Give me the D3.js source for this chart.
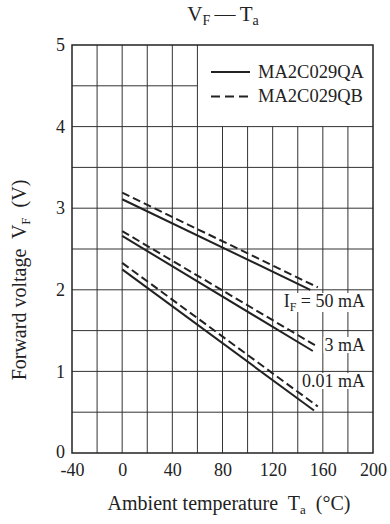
<!DOCTYPE html>
<html>
<head>
<meta charset="utf-8">
<script src="https://cdn.jsdelivr.net/npm/d3@7"></script>
<style>
  body { margin: 0; background: #fff; }
  svg text { font-family: "Liberation Serif", "Times New Roman", serif; fill: #222; }
</style>
</head>
<body>
<div id="chart"></div>
<script>
/* Data: [Ta (°C), VF (V)] */
var currentLabels = ["50 mA", "3 mA", "0.01 mA"];
var seriesQA = [
    [[0, 3.11], [150, 2.00]],
    [[0, 2.66], [152, 1.25]],
    [[0, 2.25], [153, 0.52]]
];
var seriesQB = [
    [[0, 3.19], [156, 2.03]],
    [[0, 2.72], [156, 1.30]],
    [[0, 2.33], [156, 0.57]]
];
var xTicks = [-40, 0, 40, 80, 120, 160, 200];
var yTicks = [0, 1, 2, 3, 4, 5];
var legendNames = ["MA2C029QA", "MA2C029QB"];

var width = 390, svgheight = 524;
var margin = {left: 72, right: 17, top: 45, bottom: 71};

var svg = d3.select("#chart").append("svg")
    .attr("width", width)
    .attr("height", svgheight);

var x = d3.scaleLinear().domain([-40, 200]).range([margin.left, width - margin.right]);
var y = d3.scaleLinear().domain([0, 5]).range([svgheight - margin.bottom, margin.top]);

/* Grid: every 20 °C and every 0.5 V, left blank behind the legend */
var grid = svg.append("g").attr("stroke", "#333").attr("stroke-width", 1);
d3.range(-20, 200, 20).forEach(function (t) {
    grid.append("line")
        .attr("x1", x(t)).attr("x2", x(t))
        .attr("y1", y(0)).attr("y2", t > 60 ? y(4) : y(5));
});
d3.range(0.5, 5, 0.5).forEach(function (v) {
    grid.append("line")
        .attr("x1", x(-40)).attr("x2", v > 4 ? x(60) : x(200))
        .attr("y1", y(v)).attr("y2", y(v));
});

/* Frame */
svg.append("rect")
    .attr("x", x(-40)).attr("y", y(5))
    .attr("width", x(200) - x(-40)).attr("height", y(0) - y(5))
    .attr("fill", "none").attr("stroke", "#222").attr("stroke-width", 1.5);

/* Current labels, on white so the grid stops behind them */
var labelPos = [[365, 307], [365, 351], [365, 387]];
currentLabels.forEach(function (lab, i) {
    var t = svg.append("text")
        .attr("x", labelPos[i][0]).attr("y", labelPos[i][1])
        .attr("text-anchor", "end")
        .attr("font-size", 18)
        .style("white-space", "pre");
    if (i == 0) {
        t.append("tspan").text("I");
        t.append("tspan").attr("font-size", 12).attr("dy", 4).text("F");
        t.append("tspan").attr("dy", -4).text(" = " + lab);
    } else {
        t.text(lab);
    }
    var bb = t.node().getBBox();
    svg.insert("rect", function () { return t.node(); })
        .attr("x", bb.x - 1).attr("y", bb.y + 2)
        .attr("width", bb.width + 2).attr("height", bb.height - 4)
        .attr("fill", "#fff");
});

/* Curves */
var line = d3.line().x(function (d) { return x(d[0]); }).y(function (d) { return y(d[1]); });
var curves = svg.append("g").attr("fill", "none").attr("stroke", "#222").attr("stroke-width", 2);
seriesQA.forEach(function (s) { curves.append("path").attr("d", line(s)); });
seriesQB.forEach(function (s) {
    curves.append("path").attr("d", line(s)).attr("stroke-dasharray", "8,4");
});

/* Axes (labels only) */
svg.append("g")
    .attr("transform", "translate(0," + y(0) + ")")
    .call(d3.axisBottom(x).tickValues(xTicks).tickSize(0).tickPadding(10)
        .tickFormat(function (d) { return String(d); }))
    .call(function (g) { g.select(".domain").remove(); })
    .attr("font-family", null).attr("font-size", null)
    .selectAll("text").attr("font-size", 18).attr("fill", "#222");

svg.append("g")
    .attr("transform", "translate(" + x(-40) + ",0)")
    .call(d3.axisLeft(y).tickValues(yTicks).tickSize(0).tickPadding(7)
        .tickFormat(d3.format("d")))
    .call(function (g) { g.select(".domain").remove(); })
    .attr("font-family", null).attr("font-size", null)
    .selectAll("text").attr("font-size", 18).attr("fill", "#222")
    .attr("dy", function (d) { return d == 0 ? "0.25em" : "0.32em"; });

/* Legend */
var legend = svg.append("g");
legendNames.forEach(function (name, i) {
    var ly = 72 + i * 24.5;
    legend.append("line")
        .attr("x1", 211).attr("x2", 250).attr("y1", ly).attr("y2", ly)
        .attr("stroke", "#222").attr("stroke-width", 2)
        .attr("stroke-dasharray", i == 1 ? "9,5" : null);
    legend.append("text")
        .attr("x", 258).attr("y", ly + 5.5)
        .attr("font-size", 18.5)
        .text(name);
});

/* Title */
var title = svg.append("text")
    .attr("x", 223).attr("y", 21)
    .attr("text-anchor", "middle")
    .attr("font-size", 21)
    .style("white-space", "pre");
title.append("tspan").text("V");
title.append("tspan").attr("font-size", 14).attr("dy", 4).text("F");
title.append("tspan").attr("dy", -4).text("\u2009\u2014\u2009T");
title.append("tspan").attr("font-size", 14).attr("dy", 4).text("a");

/* Axis titles */
var xt = svg.append("text")
    .attr("x", 229).attr("y", 510)
    .attr("text-anchor", "middle")
    .attr("font-size", 20)
    .style("white-space", "pre");
xt.append("tspan").text("Ambient temperature  T");
xt.append("tspan").attr("font-size", 13).attr("dy", 4).text("a");
xt.append("tspan").attr("dy", -4).text("  (\u00b0C)");

var yt = svg.append("text")
    .attr("transform", "translate(26,280) rotate(-90)")
    .attr("text-anchor", "middle")
    .attr("font-size", 20)
    .style("white-space", "pre");
yt.append("tspan").text("Forward voltage  V");
yt.append("tspan").attr("font-size", 13).attr("dy", 4).text("F");
yt.append("tspan").attr("dy", -4).text("  (V)");
</script>
</body>
</html>
